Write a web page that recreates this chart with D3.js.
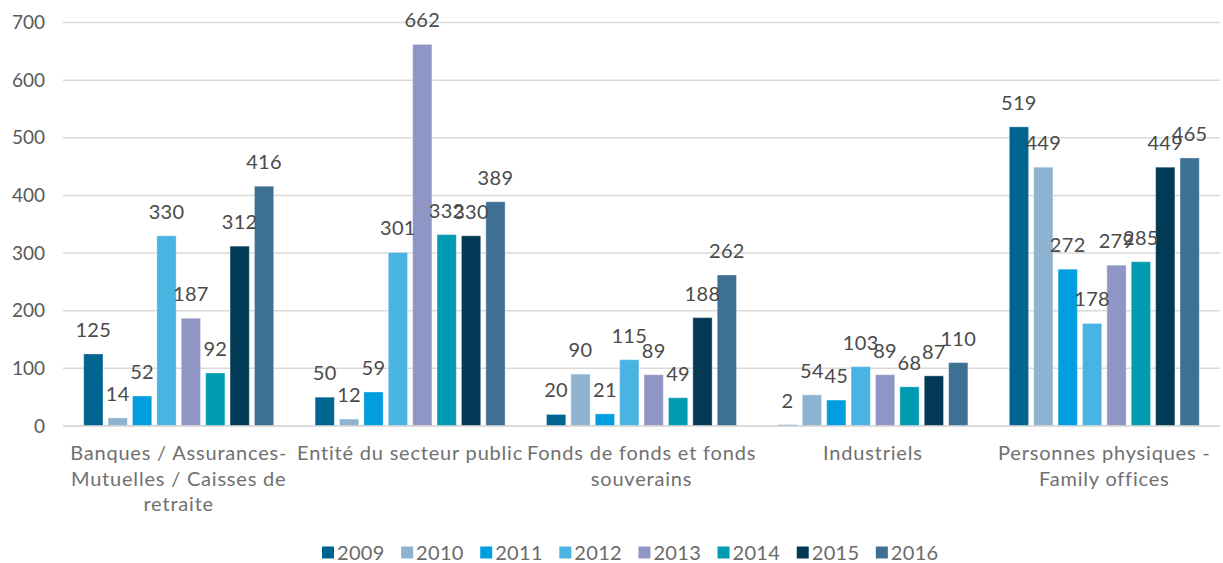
<!DOCTYPE html>
<html>
<head>
<meta charset="utf-8">
<script src="https://cdn.jsdelivr.net/npm/d3@7"></script>
<style>
  html, body { margin: 0; padding: 0; background: #fff; }
  svg { display: block; font-family: Lato, "Open Sans", sans-serif; }
</style>
</head>
<body>
<svg id="chart" width="1223" height="563"></svg>
<script>
// données
const categories = [
  "Banques / Assurances-\nMutuelles / Caisses de\nretraite",
  "Entité du secteur public",
  "Fonds de fonds et fonds\nsouverains",
  "Industriels",
  "Personnes physiques -\nFamily offices"
];
const years = ["2009", "2010", "2011", "2012", "2013", "2014", "2015", "2016"];
const values = [
  [125, 14, 52, 330, 187, 92, 312, 416],
  [50, 12, 59, 301, 662, 332, 330, 389],
  [20, 90, 21, 115, 89, 49, 188, 262],
  [2, 54, 45, 103, 89, 68, 87, 110],
  [519, 449, 272, 178, 279, 285, 449, 465]
];
const yTicks = [0, 100, 200, 300, 400, 500, 600, 700];
const colors = ["#006491", "#8db3d0", "#009ddf", "#49b3e2", "#8f96c5", "#009bb0", "#023a55", "#3e7093"];

const svg = d3.select("#chart");
const plotLeft = 63, plotRight = 1220, plotTop = 22.5, plotBottom = 426;

const x0 = d3.scaleBand().domain(categories).range([plotLeft, plotRight]);
const x1 = d3.scaleBand().domain(years)
  .range([20.7, x0.bandwidth() - 20.7])
  .paddingInner(0.21);
const y = d3.scaleLinear().domain([0, 700]).range([plotBottom, plotTop]);
const color = d3.scaleOrdinal().domain(years).range(colors);

// grille
svg.append("g")
  .selectAll("line")
  .data(yTicks)
  .join("line")
  .attr("x1", plotLeft).attr("x2", plotRight)
  .attr("y1", d => y(d)).attr("y2", d => y(d))
  .attr("stroke", "#d9d9d9")
  .attr("stroke-width", 1.5);

// axe y
const yAxis = svg.append("g")
  .attr("transform", `translate(${plotLeft},0)`)
  .call(d3.axisLeft(y).tickValues(yTicks).tickSize(0).tickPadding(18));
yAxis.select(".domain").remove();
yAxis.selectAll("text")
  .attr("font-size", 19)
  .attr("fill", "#595959")
  .attr("font-family", "Lato, sans-serif");

// barres
const groups = svg.append("g")
  .selectAll("g")
  .data(categories)
  .join("g")
  .attr("transform", d => `translate(${x0(d)},0)`);

groups.selectAll("rect")
  .data((d, i) => years.map((yr, j) => ({ year: yr, value: values[i][j] })))
  .join("rect")
  .attr("x", d => x1(d.year))
  .attr("width", x1.bandwidth())
  .attr("y", d => y(d.value))
  .attr("height", d => y(0) - y(d.value))
  .attr("fill", d => color(d.year))
  .attr("stroke", "#ffffff")
  .attr("stroke-opacity", 0.35)
  .attr("stroke-width", 1);

groups.selectAll("text.lbl")
  .data((d, i) => years.map((yr, j) => ({ year: yr, value: values[i][j] })))
  .join("text")
  .attr("class", "lbl")
  .attr("x", d => x1(d.year) + x1.bandwidth() / 2)
  .attr("y", d => y(d.value) - 17)
  .attr("text-anchor", "middle")
  .attr("font-size", 20)
  .attr("letter-spacing", 0.3)
  .attr("fill", "#4a4a4a")
  .text(d => d.value);

// axe x (ligne de base)
svg.append("line")
  .attr("x1", plotLeft).attr("x2", plotRight)
  .attr("y1", plotBottom).attr("y2", plotBottom)
  .attr("stroke", "#d9d9d9")
  .attr("stroke-width", 1.5);

// libellés des catégories
const catLabels = svg.append("g")
  .selectAll("text")
  .data(categories)
  .join("text")
  .attr("x", d => x0(d) + x0.bandwidth() / 2)
  .attr("y", 460)
  .attr("text-anchor", "middle")
  .attr("font-size", 20)
  .attr("letter-spacing", 0.8)
  .attr("fill", "#707070");
catLabels.selectAll("tspan")
  .data(d => d.split("\n"))
  .join("tspan")
  .attr("x", function () { return d3.select(this.parentNode).attr("x"); })
  .attr("dy", (d, i) => i === 0 ? 0 : 25.5)
  .text(d => d);

// légende
const legend = svg.append("g");
const items = legend.selectAll("g")
  .data(years)
  .join("g");
items.append("rect")
  .attr("width", 12).attr("height", 12)
  .attr("y", -13)
  .attr("fill", d => color(d));
items.append("text")
  .attr("x", 15)
  .attr("y", 0)
  .attr("font-size", 20)
  .attr("letter-spacing", 0.3)
  .attr("fill", "#6a6a6a")
  .text(d => d);

let cx = 0;
const gap = 16.5;
items.each(function () {
  const w = this.getBBox().width;
  d3.select(this).attr("transform", `translate(${cx},0)`);
  cx += w + gap;
});
legend.attr("transform", `translate(322,559.5)`);
</script>
</body>
</html>
